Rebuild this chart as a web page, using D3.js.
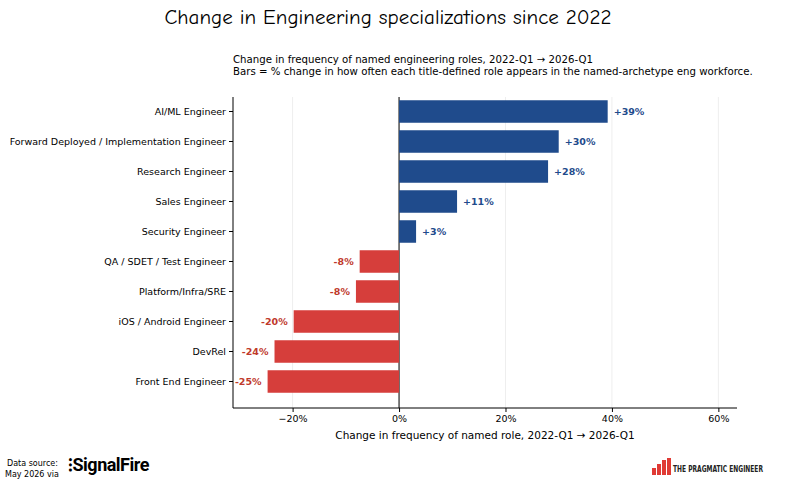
<!DOCTYPE html><html><head><meta charset="utf-8">
<script src="https://cdn.jsdelivr.net/npm/d3@7"></script>
<style>body{margin:0;background:#fff}</style></head><body>
<svg id="c" width="800" height="484"></svg>
<script>
const categories=["AI/ML Engineer","Forward Deployed / Implementation Engineer","Research Engineer","Sales Engineer","Security Engineer","QA / SDET / Test Engineer","Platform/Infra/SRE","iOS / Android Engineer","DevRel","Front End Engineer"];
const values=[39.2,30,28,10.9,3.2,-7.4,-8.1,-19.8,-23.4,-24.7];
const labels=["+39%","+30%","+28%","+11%","+3%","-8%","-8%","-20%","-24%","-25%"];
const ticks=[-20,0,20,40,60];
const svg=d3.select("#c");
const L=233,R=737,T=97,B=408;
const x=d3.scaleLinear().domain([-31.2,63.5]).range([L,R]);
const y=d3.scaleBand().domain(categories).range([96.5,396.5]).paddingInner(0.25).paddingOuter(0.125);
const f="DejaVu Sans, sans-serif";
svg.append("text").attr("x",388).attr("y",24).attr("text-anchor","middle").attr("font-family","'Comic Sans MS', 'Comic Neue', 'DejaVu Sans', sans-serif").attr("font-size",21).text("Change in Engineering specializations since 2022");
svg.append("text").attr("x",233).attr("y",63).attr("font-family",f).attr("font-size",10.2).text("Change in frequency of named engineering roles, 2022-Q1 → 2026-Q1");
svg.append("text").attr("x",233).attr("y",75).attr("font-family",f).attr("font-size",10.2).text("Bars = % change in how often each title-defined role appears in the named-archetype eng workforce.");
ticks.forEach(t=>{svg.append("line").attr("x1",x(t)).attr("x2",x(t)).attr("y1",T).attr("y2",B).attr("stroke","#eee").attr("stroke-width",1);});
svg.append("line").attr("x1",x(0)).attr("x2",x(0)).attr("y1",T).attr("y2",B).attr("stroke","#000").attr("stroke-width",1);
svg.selectAll("rect.b").data(values).enter().append("rect")
 .attr("x",(d)=>x(Math.min(0,d))).attr("width",d=>Math.abs(x(d)-x(0)))
 .attr("y",(d,i)=>y(categories[i])).attr("height",y.bandwidth())
 .attr("fill",d=>d>0?"#1f4b8c":"#d63e3b");
svg.selectAll("text.v").data(values).enter().append("text")
 .attr("x",d=>d>0?x(d)+6:x(d)-6).attr("y",(d,i)=>y(categories[i])+y.bandwidth()/2+3.5)
 .attr("text-anchor",d=>d>0?"start":"end").attr("font-family",f).attr("font-size",9.5).attr("font-weight","bold")
 .attr("fill",d=>d>0?"#1f4b8c":"#c0392b").text((d,i)=>labels[i]);
const ya=svg.append("g").attr("transform",`translate(${L},0)`).call(d3.axisLeft(y).tickSize(4));
ya.select(".domain").attr("d",`M0,${T}V${B}`);
ya.selectAll("text").attr("font-family",f).attr("font-size",9.5).attr("fill","#000");
const xa=svg.append("g").attr("transform",`translate(0,${B})`).call(d3.axisBottom(x).tickValues(ticks).tickSize(4).tickFormat(d=>(d<0?"−":"")+Math.abs(d)+"%"));
xa.select(".domain").attr("d",`M${L},0H${R}`);
xa.selectAll("text").attr("font-family",f).attr("font-size",9.5).attr("fill","#000");
svg.append("text").attr("x",485).attr("y",439).attr("text-anchor","middle").attr("font-family",f).attr("font-size",10.5).text("Change in frequency of named role, 2022-Q1 → 2026-Q1");
svg.append("text").attr("x",7).attr("y",466).attr("font-family",f).attr("font-size",8).text("Data source:");
svg.append("text").attr("x",5).attr("y",477).attr("font-family",f).attr("font-size",8).text("May 2026 via");
svg.append("text").attr("x",68).attr("y",471).attr("font-family","Roboto, sans-serif").attr("font-size",18).attr("font-weight","bold").attr("letter-spacing",-0.5).text("⁝SignalFire");
[[652,468,4,7],[657,464,4,11],[662,460,4,15],[667,458,4,17]].forEach(r=>svg.append("rect").attr("x",r[0]).attr("y",r[1]).attr("width",r[2]).attr("height",r[3]).attr("fill","#e03a34"));
svg.append("text").attr("x",673).attr("y",472).attr("font-family","'DejaVu Sans Condensed', sans-serif").attr("font-size",8.5).attr("font-weight","bold").attr("fill","#222").attr("textLength",90).attr("lengthAdjust","spacingAndGlyphs").text("THE PRAGMATIC ENGINEER");
</script></body></html>
